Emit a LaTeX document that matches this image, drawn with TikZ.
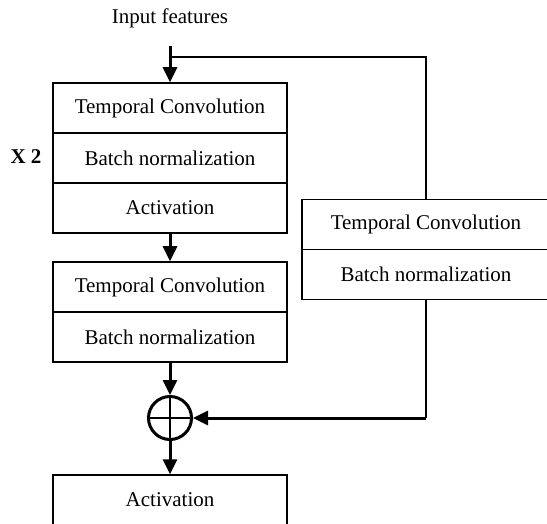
\documentclass[tikz,border=0pt]{standalone}
\usepackage{fontspec}
\setmainfont{Liberation Serif}
\usetikzlibrary{arrows.meta}
\begin{document}
\begin{tikzpicture}[x=0.5pt,y=-0.5pt,>={Triangle[length=7.5pt,width=7pt]},font=\fontsize{10.5}{12}\selectfont,
    blk/.style={draw,line width=0.75pt,minimum width=117pt,minimum height=25pt,inner sep=0pt},
    rblk/.style={blk,minimum width=124pt},
    flow/.style={->,line width=1.5pt},
    wire/.style={line width=0.75pt}]
    \useasboundingbox (0,0) rectangle (547,524);
    \clip (0,0) rectangle (547,524);
    % main path
    \node (inp) at (170,18) {Input features};
    \coordinate (in) at (170,46);\coordinate (split) at (170,57);
    \node[blk] (tc1) at (170,108) {Temporal Convolution};
    \node[blk] (bn1) at (170,158) {Batch normalization};
    \node[blk] (act1) at (170,208) {Activation};
    \node[font=\bfseries\fontsize{10.5}{12}\selectfont] (rep) at (26,157) {X 2};
    \node[blk] (tc2) at (170,287) {Temporal Convolution};
    \node[blk] (bn2) at (170,337) {Batch normalization};
    \node[draw,circle,line width=1.5pt,minimum size=21.5pt,inner sep=0pt] (sum) at (170,418) {};
    \draw[wire] (sum.north)--(sum.south) (sum.west)--(sum.east);
    \node[blk] (act2) at (170,500) {Activation};
    % shortcut
    \node[rblk] (rtc) at (426,224.5) {Temporal Convolution};
    \node[rblk] (rbn) at (426,274.5) {Batch normalization};
    \coordinate (turn) at (rbn.south |- sum.east);
    \draw[flow] (in)--(tc1);
    \draw[wire] (split)-|(rtc.north);
    \draw[flow] (act1)--(tc2);
    \draw[flow] (bn2)--(sum);
    \draw[flow] (sum)--(act2);
    \draw[wire] (rbn.south)--(turn);
    \draw[flow] (turn)--(sum.east);
\end{tikzpicture}
\end{document}
